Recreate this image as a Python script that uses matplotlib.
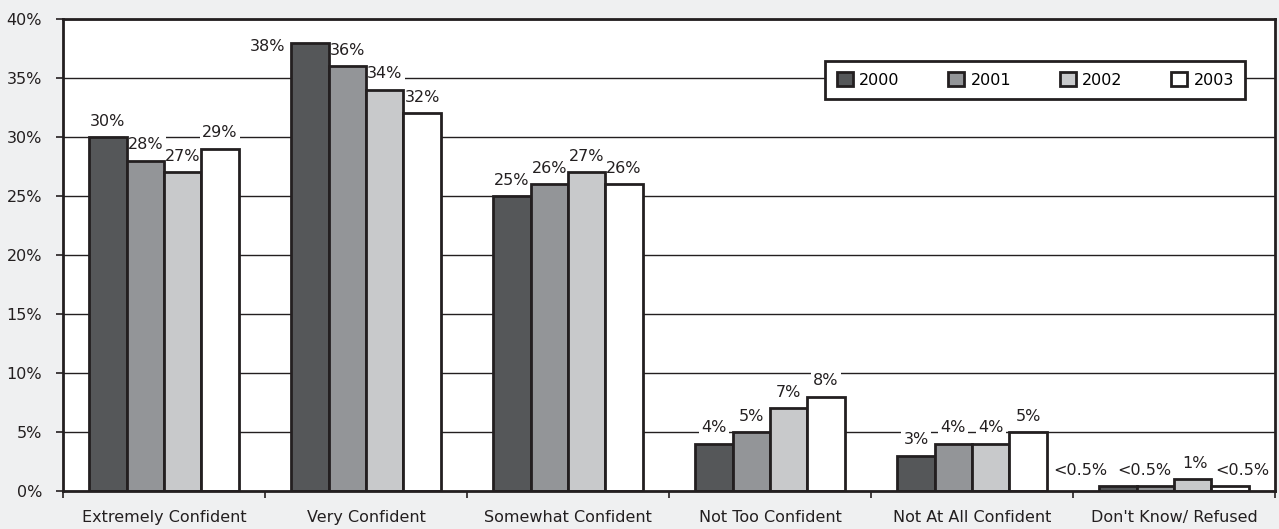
import matplotlib
matplotlib.use("Agg")
import matplotlib.pyplot as plt
import numpy as np

plt.rcParams['font.family'] = ['DejaVu Sans Condensed', 'DejaVu Sans']

categories = ["Extremely Confident", "Very Confident", "Somewhat Confident",
              "Not Too Confident", "Not At All Confident", "Don't Know/ Refused"]
years = ["2000", "2001", "2002", "2003"]
values = {
    "2000": [30, 38, 25, 4, 3, 0.4],
    "2001": [28, 36, 26, 5, 4, 0.4],
    "2002": [27, 34, 27, 7, 4, 1],
    "2003": [29, 32, 26, 8, 5, 0.4],
}
labels = {
    "2000": ["30%", "38%", "25%", "4%", "3%", "<0.5%"],
    "2001": ["28%", "36%", "26%", "5%", "4%", "<0.5%"],
    "2002": ["27%", "34%", "27%", "7%", "4%", "1%"],
    "2003": ["29%", "32%", "26%", "8%", "5%", "<0.5%"],
}
colors = ["#555759", "#939598", "#c8c9cb", "#ffffff"]
yticks = [0, 5, 10, 15, 20, 25, 30, 35, 40]

bg = "#eff0f1"
edge = "#231f20"
fs = 11.5

fig = plt.figure(figsize=(12.79, 5.29), dpi=100, facecolor=bg)
ax = fig.add_axes([0.0493, 0.0718, 0.9476, 0.8923])
ax.set_facecolor("white")

# horizontal nudges (points) so the small labels in the last group don't collide
nudge = {("2000", 5): -27, ("2001", 5): -8, ("2002", 5): 2, ("2003", 5): 9}

x = np.arange(len(categories))
w = 0.185
for i, yr in enumerate(years):
    pos = x + (i - 1.5) * w
    bars = ax.bar(pos, values[yr], width=w, color=colors[i], edgecolor=edge,
                  linewidth=2, zorder=3)
    for j, (b, lab) in enumerate(zip(bars, labels[yr])):
        # white box hides the gridline behind the label, but stays under the bars
        box = dict(boxstyle="square,pad=0.15", fc="white", ec="none")
        if yr == "2000" and j == 1:
            # tallest bar: label sits beside the bar's top edge
            ax.annotate(lab, (b.get_x(), b.get_height()),
                        xytext=(-4, -3), textcoords="offset points",
                        ha="right", va="center", fontsize=fs, color=edge,
                        bbox=box, zorder=2)
            continue
        ax.annotate(lab, (b.get_x() + b.get_width() / 2, b.get_height()),
                    xytext=(nudge.get((yr, j), 0), 6), textcoords="offset points",
                    ha="center", va="bottom", fontsize=fs, color=edge,
                    bbox=box, zorder=2)

ax.set_xlim(-0.5, len(categories) - 0.5)
ax.set_ylim(0, 40)
ax.set_yticks(yticks)
ax.set_yticklabels([f"{v}%" for v in yticks], fontsize=fs, color=edge)
ax.yaxis.grid(True, color=edge, linewidth=1.0, zorder=0)
ax.set_axisbelow(True)

ax.set_xticks(x)
ax.set_xticklabels(categories, fontsize=fs, color=edge)
ax.tick_params(axis="x", which="major", length=0, pad=14)
ax.set_xticks(np.arange(-0.5, len(categories) + 0.5, 1), minor=True)
ax.tick_params(axis="x", which="minor", length=5, width=1.2, color=edge, direction="out")
ax.tick_params(axis="y", length=5, width=1.2, color=edge, pad=10)

for s in ax.spines.values():
    s.set_color(edge)
    s.set_linewidth(2)
    s.set_zorder(5)

handles = [plt.Rectangle((0, 0), 1, 1, fc=c, ec=edge, lw=2) for c in colors]
leg = ax.legend(handles, years, ncol=4, loc="lower left",
                bbox_to_anchor=(0.629, 0.8305, 0.3465, 0.093), mode="expand",
                fontsize=fs, frameon=True, fancybox=False, handlelength=1.0,
                handleheight=1.0, handletextpad=0.4, borderaxespad=0,
                borderpad=0.7)
leg.get_frame().set_edgecolor(edge)
leg.get_frame().set_linewidth(2)
leg.get_frame().set_facecolor("white")
leg.get_frame().set_alpha(1)
leg.set_zorder(6)

fig.savefig("out.png", dpi=100, facecolor=bg)
